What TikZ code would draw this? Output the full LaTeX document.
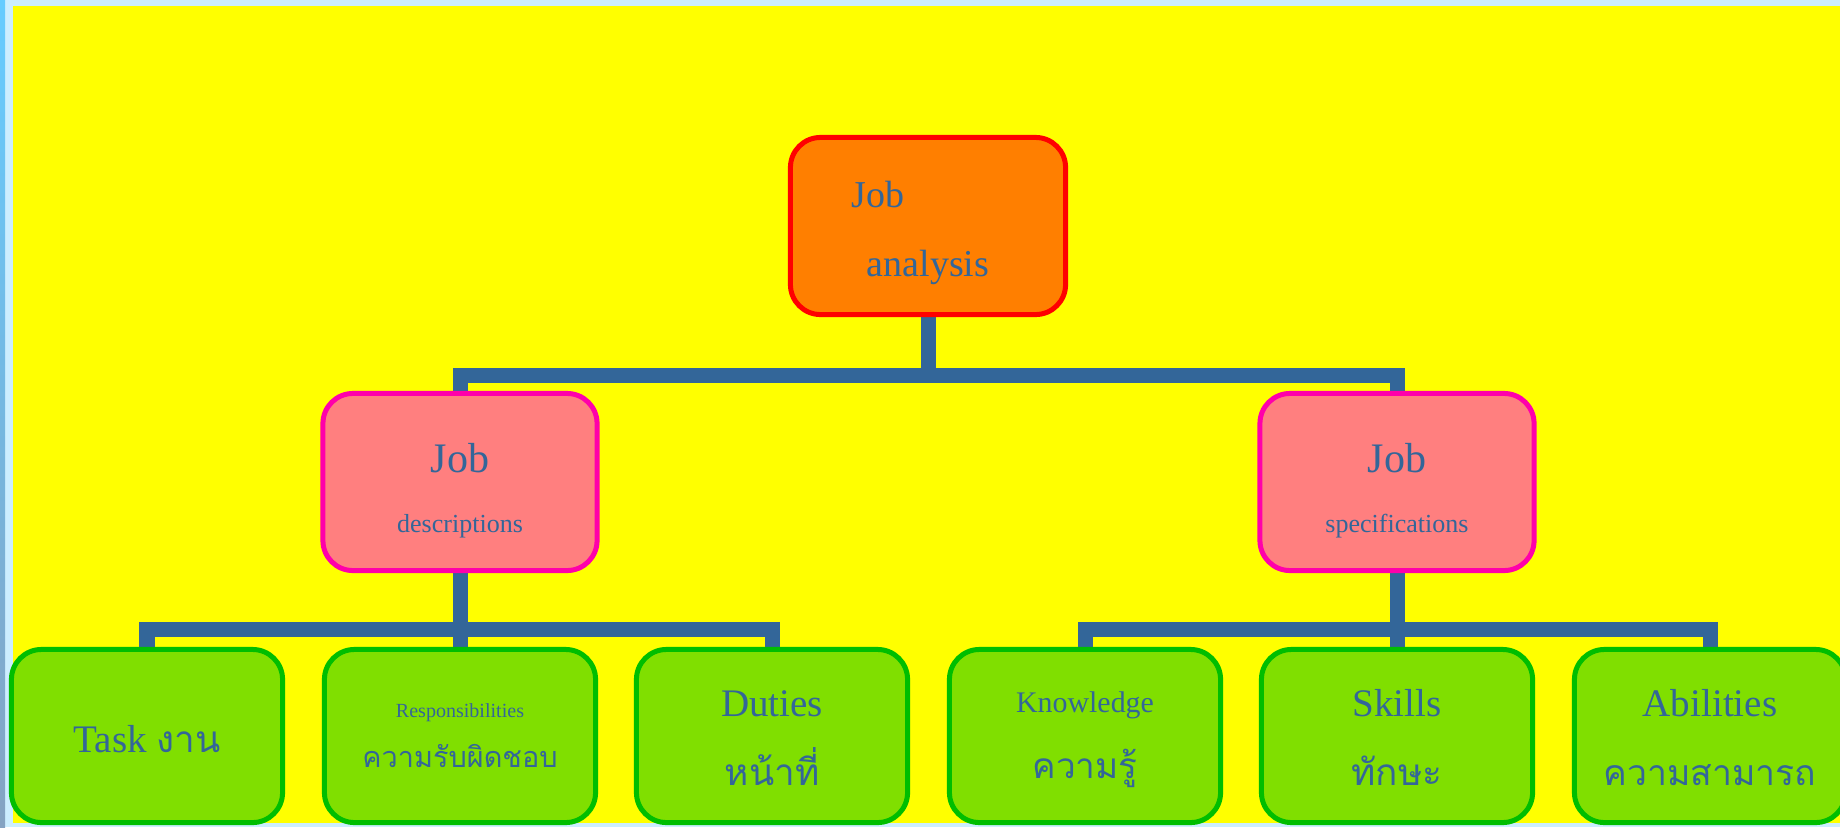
\documentclass[tikz,border=0pt]{standalone}
\usepackage{fontspec}
\setmainfont{Liberation Serif}
\newfontfamily\thaifont[Script=Thai]{Loma}
\usetikzlibrary{backgrounds}

\definecolor{txtblue}{RGB}{51,102,153}
\definecolor{skylight}{RGB}{204,238,255}
\definecolor{skydark}{RGB}{102,204,255}
\definecolor{hilite}{RGB}{255,255,0}
\definecolor{orangefill}{RGB}{255,127,0}
\definecolor{pinkfill}{RGB}{255,127,127}
\definecolor{pinkline}{RGB}{255,0,170}
\definecolor{greenfill}{RGB}{128,223,0}
\definecolor{greenline}{RGB}{0,190,0}

\newcommand{\thtxt}[2][10.5]{{\thaifont\fontsize{#1}{19.6}\selectfont #2}}

\begin{document}
\begin{tikzpicture}[x=0.01cm,y=-0.01cm,
    box/.style={rounded corners=0.3cm,line width=0.05cm,text=txtblue,align=center,inner sep=0pt},
    conn/.style={draw=txtblue,line width=0.15cm}]

  \useasboundingbox (0,0) rectangle (1840,827);

  \begin{scope}[every node/.style={box,draw=red,fill=orangefill,minimum width=2.75cm,minimum height=1.77cm,font=\fontsize{10.8}{19.6}\selectfont}]
    \node[text height=1cm,text depth=0cm] (a) at (928,226) {Job\hspace*{1cm}\\analysis};
  \end{scope}

  \begin{scope}[every node/.style={box,draw=pinkline,fill=pinkfill,minimum width=2.74cm,minimum height=1.77cm,text height=1cm,text depth=0cm,font=\fontsize{11.95}{16.8}\selectfont}]
    \node (d) at (460,482)  {Job\\{\fontsize{7.4}{9}\selectfont descriptions}};
    \node (s) at (1397,482) {Job\\{\fontsize{7.4}{9}\selectfont specifications}};
  \end{scope}

  \begin{scope}[every node/.style={box,draw=greenline,fill=greenfill,minimum width=2.71cm,minimum height=1.73cm,text height=0.98cm,text depth=0cm,font=\fontsize{11.1}{19.6}\selectfont}]
    \node[text height=0.32cm] (d1) at (147,736) {Task \thtxt{งาน}};
    \node[text height=0.62cm] (d2) at (460,736) {{\fontsize{5.7}{7}\selectfont Responsibilities}\\[-5.4pt]\thtxt[8.2]{ความรับผิดชอบ}};
    \node (d3) at (772,736)  {Duties\\\thtxt{หน้าที่}};
    \node[text height=0.84cm] (s1) at (1085,736) {{\fontsize{8.5}{10}\selectfont Knowledge}\\[-0.9pt]\thtxt[10]{ความรู้}};
    \node (s2) at (1397,736) {Skills\\\thtxt{ทักษะ}};
    \node (s3) at (1710,736) {Abilities\\\thtxt[10.1]{ความสามารถ}};
  \end{scope}

  \begin{scope}[on background layer]
    % page and panel
    \fill[skylight] (0,0) rectangle (1840,827);
    \shade[top color=skydark,bottom color=txtblue!60] (0,0) rectangle (5,827);
    \fill[hilite] (13,6) rectangle (1840,823);

    % tree lines
    \coordinate (b0) at (928,375);
    \coordinate (b1) at (460,629);
    \coordinate (b2) at (1397,629);
    \draw[conn] (a.south) -- (b0);
    \draw[conn] (d.north) |- (b0) -| (s.north);
    \draw[conn] (d.south) -- (b1);
    \draw[conn] (d1.north) |- (b1) -| (d3.north);
    \draw[conn] (b1) -- (d2.north);
    \draw[conn] (s.south) -- (b2);
    \draw[conn] (s1.north) |- (b2) -| (s3.north);
    \draw[conn] (b2) -- (s2.north);
  \end{scope}

\end{tikzpicture}
\end{document}
